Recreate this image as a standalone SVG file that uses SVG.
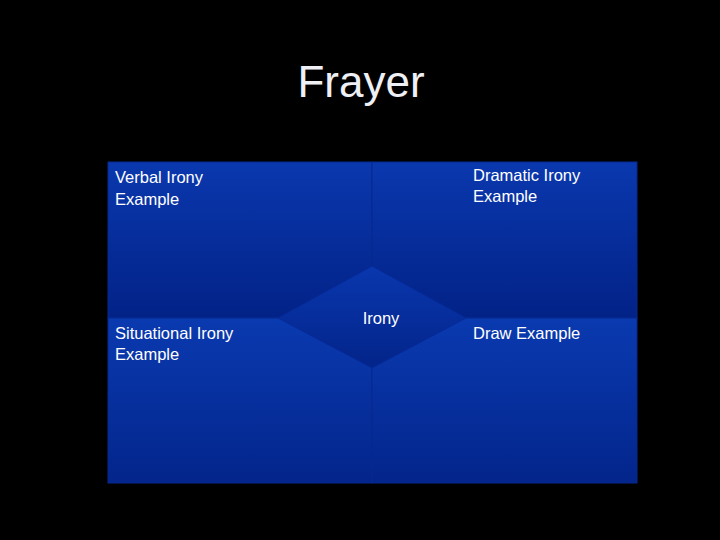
<svg xmlns="http://www.w3.org/2000/svg" width="720" height="540" viewBox="0 0 720 540">
<defs>
<linearGradient id="qTop" x1="0" y1="0" x2="0" y2="1">
<stop offset="0" stop-color="#0a38ae"/>
<stop offset="1" stop-color="#022287"/>
</linearGradient>
<linearGradient id="qBot" x1="0" y1="0" x2="0" y2="1">
<stop offset="0" stop-color="#0a3ab0"/>
<stop offset="1" stop-color="#03258b"/>
</linearGradient>
<linearGradient id="dia" x1="0" y1="0" x2="0" y2="1">
<stop offset="0" stop-color="#0937ae"/>
<stop offset="1" stop-color="#032489"/>
</linearGradient>
<style>
.lbl{font-family:"Liberation Sans",Arial,sans-serif;font-size:16.5px;fill:#ffffff}
.title{font-family:"Liberation Sans",Arial,sans-serif;font-size:44px;fill:#eef0f5}
.quad{stroke:#06288f;stroke-width:1}
</style>
</defs>
<rect x="0" y="0" width="720" height="540" fill="#000000"/>
<g id="title"><text class="title" x="361" y="97" text-anchor="middle">Frayer</text></g>
<g id="q-verbal">
<rect class="quad" x="108" y="162" width="264" height="156" fill="url(#qTop)"/>
<text class="lbl" x="115" y="183">Verbal Irony</text>
<text class="lbl" x="115" y="205">Example</text>
</g>
<g id="q-dramatic">
<rect class="quad" x="372" y="162" width="265" height="156" fill="url(#qTop)"/>
<text class="lbl" x="473" y="181">Dramatic Irony</text>
<text class="lbl" x="473" y="202">Example</text>
</g>
<g id="q-situational">
<rect class="quad" x="108" y="318" width="264" height="165" fill="url(#qBot)"/>
<text class="lbl" x="115" y="339">Situational Irony</text>
<text class="lbl" x="115" y="360">Example</text>
</g>
<g id="q-draw">
<rect class="quad" x="372" y="318" width="265" height="165" fill="url(#qBot)"/>
<text class="lbl" x="473" y="339">Draw Example</text>
</g>
<g id="center">
<polygon points="372,266 466,318 372,368 278,318" fill="url(#dia)" stroke="#052a98" stroke-width="1"/>
<text class="lbl" x="381" y="324" text-anchor="middle">Irony</text>
</g>
<g id="connectors"></g>
</svg>
